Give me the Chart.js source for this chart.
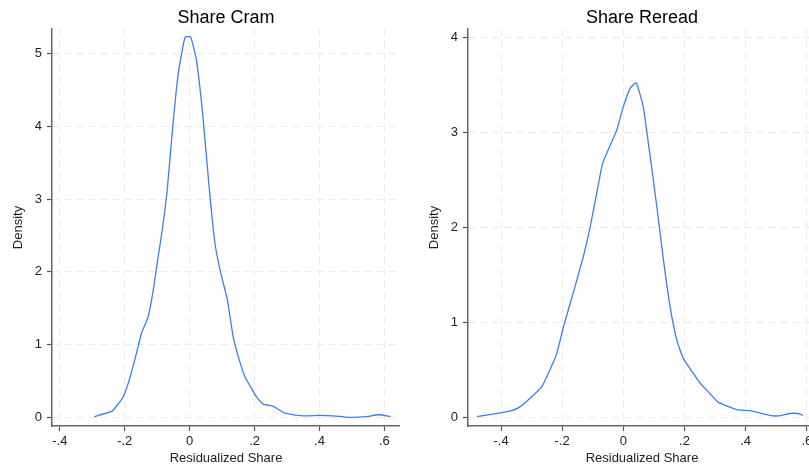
<!DOCTYPE html>
<html>
<head>
<meta charset="utf-8">
<script src="https://cdn.jsdelivr.net/npm/chart.js@4.4.0/dist/chart.umd.min.js"></script>
<style>
  html, body { margin: 0; padding: 0; background: #fff; overflow: hidden; }
  body { width: 809px; height: 468px; position: relative; }
  .box { position: absolute; top: 0; width: 400px; height: 468px; }
</style>
</head>
<body>
<div class="box" style="left:0"><canvas id="cram"></canvas></div>
<div class="box" style="left:416px"><canvas id="reread"></canvas></div>
<script>
// Share Cram density curve
const cramX = [-0.294, -0.24, -0.225, -0.205, -0.189, -0.169, -0.148, -0.128, -0.112, -0.1, -0.083, -0.069, -0.052, -0.035, -0.014, 0.003, 0.021, 0.040, 0.060, 0.078, 0.095, 0.116, 0.134, 0.150, 0.170, 0.190, 0.206, 0.227, 0.258, 0.283, 0.30, 0.35, 0.40, 0.443, 0.489, 0.545, 0.581, 0.619];
const cramY = [0.01, 0.08, 0.155, 0.28, 0.47, 0.79, 1.16, 1.38, 1.75, 2.12, 2.62, 3.13, 4.0, 4.73, 5.23, 5.23, 4.91, 4.18, 3.17, 2.39, 2.0, 1.62, 1.11, 0.83, 0.56, 0.40, 0.28, 0.18, 0.15, 0.08, 0.05, 0.02, 0.025, 0.02, 0.0, 0.01, 0.035, 0.01];

// Share Reread density curve
const rereadX = [-0.479, -0.397, -0.365, -0.338, -0.305, -0.267, -0.24, -0.218, -0.196, -0.163, -0.131, -0.11, -0.087, -0.067, -0.022, 0.0, 0.022, 0.042, 0.065, 0.082, 0.098, 0.114, 0.131, 0.153, 0.175, 0.196, 0.225, 0.251, 0.283, 0.31, 0.37, 0.414, 0.479, 0.507, 0.545, 0.572, 0.588];
const rereadY = [0.006, 0.05, 0.07, 0.11, 0.2, 0.32, 0.5, 0.67, 0.95, 1.32, 1.69, 1.98, 2.36, 2.68, 3.02, 3.27, 3.46, 3.52, 3.27, 2.88, 2.50, 2.1, 1.66, 1.16, 0.81, 0.62, 0.48, 0.36, 0.25, 0.16, 0.08, 0.07, 0.02, 0.015, 0.04, 0.04, 0.02];

// ticks
const xTicks = [-0.4, -0.2, 0, 0.2, 0.4, 0.6];
const xTickLabels = ['-.4', '-.2', '0', '.2', '.4', '.6'];
const cramYTicks = [0, 1, 2, 3, 4, 5];
const rereadYTicks = [0, 1, 2, 3, 4];

const FONT = 'Liberation Sans, Arial, Helvetica, sans-serif';
const LINE = '#3d7ef0';

/**
 * draws the panel title centered over the plot area
 */
const panelTitle = {
    id: 'panelTitle',
    afterDraw(chart, args, opts) {
        let ctx = chart.ctx;
        let area = chart.chartArea;
        ctx.save();
        ctx.font = '18px ' + FONT;
        ctx.fillStyle = '#000';
        ctx.textAlign = 'center';
        ctx.textBaseline = 'alphabetic';
        ctx.fillText(opts.text, (area.left + area.right) / 2, 23);
        ctx.restore();
    }
};

function makeChart(id, title, xs, ys, xMin, xMax, yMin, yMax, yTicks) {
    let points = xs.map((x, i) => ({x: x, y: ys[i]}));
    let ctx = document.getElementById(id).getContext('2d');
    return new Chart(ctx, {
        type: 'scatter',
        data: {
            datasets: [{
                data: points,
                showLine: true,
                borderColor: LINE,
                borderWidth: 1.3,
                pointRadius: 0,
                tension: 0.15,
                fill: false
            }]
        },
        options: {
            responsive: true,
            maintainAspectRatio: false,
            animation: false,
            layout: { padding: { top: 29, right: 0, bottom: 0, left: 0 } },
            plugins: {
                legend: { display: false },
                tooltip: { enabled: false },
                panelTitle: { text: title }
            },
            scales: {
                x: {
                    type: 'linear',
                    min: xMin,
                    max: xMax,
                    afterBuildTicks: s => { s.ticks = xTicks.map(v => ({value: v})); },
                    afterFit: s => { s.height = 42; s.paddingLeft = 0; s.paddingRight = 0; },
                    ticks: {
                        callback: (v) => xTickLabels[xTicks.indexOf(v)],
                        font: { family: FONT, size: 13 },
                        color: '#222',
                        padding: 3,
                        maxRotation: 0
                    },
                    grid: {
                        color: '#ebebeb',
                        lineWidth: 1,
                        tickLength: 5,
                        tickColor: '#555',
                        tickWidth: 1.2,
                        tickBorderDash: []
                    },
                    border: { display: true, color: '#666', width: 1.5, dash: [7, 5] },
                    title: {
                        display: true,
                        text: 'Residualized Share',
                        font: { family: FONT, size: 13 },
                        color: '#222',
                        padding: { top: 0, bottom: 1.5 }
                    }
                },
                y: {
                    min: yMin,
                    max: yMax,
                    afterBuildTicks: s => { s.ticks = yTicks.map(v => ({value: v})); },
                    afterFit: s => { s.width = 52; s.paddingTop = 0; s.paddingBottom = 0; },
                    ticks: {
                        font: { family: FONT, size: 13 },
                        color: '#222',
                        padding: 5
                    },
                    grid: {
                        color: '#ebebeb',
                        lineWidth: 1,
                        tickLength: 5,
                        tickColor: '#555',
                        tickWidth: 1.2,
                        tickBorderDash: []
                    },
                    border: { display: true, color: '#666', width: 1.5, dash: [7, 5] },
                    title: {
                        display: true,
                        text: 'Density',
                        font: { family: FONT, size: 13 },
                        color: '#222',
                        padding: { top: 11, bottom: 0 }
                    }
                }
            }
        },
        plugins: [panelTitle]
    });
}

makeChart('cram', 'Share Cram', cramX, cramY, -0.424, 0.648, -0.12, 5.341, cramYTicks);
makeChart('reread', 'Share Reread', rereadX, rereadY, -0.508, 0.630, -0.0916, 4.087, rereadYTicks);
</script>
</body>
</html>
